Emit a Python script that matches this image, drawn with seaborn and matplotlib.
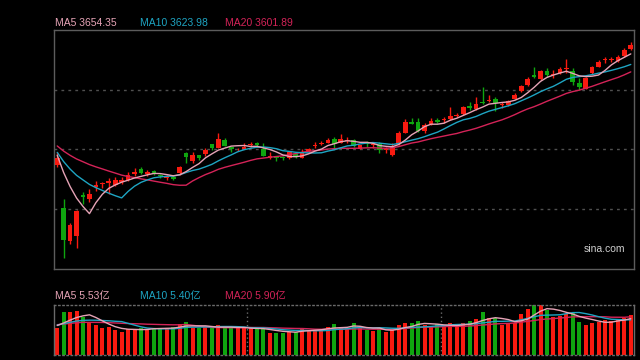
import numpy as np
import pandas as pd
import matplotlib
matplotlib.use("Agg")
import matplotlib.pyplot as plt
import seaborn as sns

sns.set_theme(style="dark", rc={"axes.facecolor": "#000000", "figure.facecolor": "#000000",
                                "axes.edgecolor": "#5c5c5c", "axes.grid": False})
plt.rcParams["font.family"] = ["Liberation Sans", "Noto Sans CJK SC", "DejaVu Sans"]

# closes of the 19 days before the first visible candle (seed the moving averages)
prev_close = [3405, 3392, 3398, 3390, 3401, 3396, 3388, 3399, 3394, 3397,
              3372, 3363, 3368, 3360, 3367, 3355, 3348, 3353, 3349]

opens = [3318, 3189, 3090, 3105, 3228, 3216, 3252, 3261, 3264, 3258,
         3267, 3273, 3291, 3306, 3291, 3300, 3288, 3279, 3282, 3294,
         3354, 3330, 3348, 3351, 3384, 3372, 3396, 3375, 3366, 3369,
         3381, 3387, 3369, 3339, 3345, 3342, 3339, 3351, 3339, 3360,
         3378, 3384, 3387, 3399, 3387, 3393, 3396, 3369, 3387, 3381,
         3384, 3363, 3348, 3384, 3417, 3450, 3450, 3423, 3444, 3456,
         3456, 3459, 3468, 3474, 3498, 3489, 3510, 3513, 3519, 3501,
         3501, 3519, 3543, 3561, 3591, 3579, 3603, 3591, 3597, 3609,
         3603, 3567, 3549, 3597, 3615, 3636, 3636, 3633, 3648, 3669]
closes = [3339, 3093, 3138, 3180, 3222, 3231, 3258, 3264, 3270, 3273,
          3273, 3288, 3297, 3294, 3297, 3294, 3285, 3282, 3276, 3312,
          3342, 3348, 3339, 3363, 3372, 3399, 3378, 3369, 3369, 3375,
          3384, 3381, 3345, 3345, 3339, 3339, 3357, 3342, 3357, 3369,
          3381, 3387, 3396, 3384, 3399, 3396, 3378, 3381, 3384, 3384,
          3363, 3366, 3375, 3417, 3450, 3444, 3423, 3441, 3453, 3450,
          3459, 3468, 3471, 3495, 3492, 3504, 3507, 3516, 3507, 3504,
          3513, 3531, 3558, 3579, 3585, 3603, 3591, 3594, 3609, 3612,
          3570, 3555, 3582, 3615, 3630, 3639, 3639, 3645, 3666, 3681]
highs = [3357, 3216, 3144, 3183, 3237, 3246, 3270, 3267, 3279, 3282,
         3282, 3297, 3309, 3312, 3303, 3303, 3291, 3288, 3285, 3315,
         3357, 3357, 3348, 3372, 3384, 3417, 3402, 3375, 3372, 3387,
         3390, 3390, 3387, 3357, 3345, 3345, 3360, 3357, 3366, 3372,
         3390, 3393, 3402, 3405, 3414, 3405, 3399, 3381, 3393, 3387,
         3390, 3375, 3387, 3423, 3459, 3462, 3462, 3447, 3462, 3462,
         3465, 3495, 3477, 3498, 3510, 3525, 3555, 3531, 3525, 3510,
         3516, 3537, 3561, 3585, 3615, 3606, 3612, 3606, 3615, 3639,
         3612, 3582, 3585, 3618, 3636, 3645, 3645, 3651, 3672, 3690]
lows = [3312, 3039, 3081, 3069, 3201, 3207, 3240, 3249, 3231, 3255,
        3261, 3270, 3285, 3291, 3285, 3288, 3279, 3273, 3273, 3288,
        3324, 3324, 3333, 3345, 3363, 3372, 3378, 3357, 3360, 3369,
        3375, 3375, 3345, 3336, 3330, 3333, 3336, 3339, 3339, 3357,
        3372, 3381, 3387, 3366, 3387, 3387, 3375, 3366, 3375, 3372,
        3354, 3354, 3345, 3381, 3417, 3444, 3420, 3417, 3441, 3447,
        3447, 3456, 3465, 3471, 3486, 3486, 3504, 3510, 3483, 3492,
        3498, 3519, 3540, 3558, 3582, 3576, 3585, 3582, 3594, 3597,
        3561, 3546, 3549, 3594, 3615, 3627, 3630, 3630, 3645, 3666]

# volume, 亿
prev_vol = [4.9, 4.5, 4.8, 4.6, 5.0, 4.7, 4.4, 4.8, 4.9, 4.6,
            4.7, 4.5, 4.8, 4.9, 4.6, 4.7, 4.5, 4.8, 4.6]
volume = [4.1, 6.67, 6.67, 6.8, 5.9, 4.9, 4.6, 4.1, 4.35, 3.85,
          3.6, 3.95, 3.95, 4.2, 3.95, 4.2, 4.1, 4.1, 4.35, 4.7,
          5.1, 4.2, 4.1, 4.35, 4.2, 4.6, 4.2, 4.1, 4.1, 4.2,
          4.1, 3.95, 3.95, 3.45, 3.45, 3.45, 3.6, 3.6, 4.2, 3.85,
          3.85, 3.95, 4.35, 4.8, 4.1, 4.1, 5.0, 4.1, 3.85, 3.7,
          4.1, 3.6, 3.85, 4.6, 5.0, 4.9, 5.2, 4.6, 4.35, 4.7,
          4.35, 4.9, 4.35, 4.9, 5.2, 5.55, 6.57, 5.65, 5.75, 4.6,
          4.7, 5.0, 6.27, 7.08, 7.7, 7.7, 6.93, 5.9, 6.06, 6.27,
          6.4, 5.1, 4.6, 4.98, 5.1, 5.4, 5.2, 5.55, 5.65, 6.16]

month_breaks = [29.5, 59.5]

RED = "#f81a10"
GREEN = "#0fa50f"
C_MA5 = "#e6a3b6"
C_MA10 = "#1ea5c3"
C_MA20 = "#d42358"

n = len(closes)
idx = np.arange(n)
df = pd.DataFrame({"open": opens, "close": closes, "high": highs, "low": lows, "vol": volume})
df["up"] = df["close"] >= df["open"]

all_close = pd.Series(prev_close + closes)
all_vol = pd.Series(prev_vol + volume)
k = len(prev_close)
ma = {w: all_close.rolling(w).mean().to_numpy()[k:] for w in (5, 10, 20)}
vma = {w: all_vol.rolling(w, min_periods=1).mean().to_numpy()[k:] for w in (5, 10, 20)}

fig = plt.figure(figsize=(6.4, 3.6), dpi=100)
ax = fig.add_axes([54 / 640, 91 / 360, 580 / 640, 239 / 360])
axv = fig.add_axes([54 / 640, 5 / 360, 580 / 640, 50 / 360])

# candles
colors = np.where(df["up"], RED, GREEN)
ax.vlines(idx, df["low"], df["high"], colors=colors, linewidth=1, zorder=2)
body_lo = np.minimum(df["open"], df["close"])
body_h = np.maximum(np.abs(df["close"] - df["open"]), 2)
ax.bar(idx, body_h, bottom=body_lo, width=0.74, color=colors, linewidth=0, zorder=3)

sns.lineplot(x=idx, y=ma[20], ax=ax, color=C_MA20, linewidth=1, zorder=4)
sns.lineplot(x=idx, y=ma[10], ax=ax, color=C_MA10, linewidth=1, zorder=4)
sns.lineplot(x=idx, y=ma[5], ax=ax, color=C_MA5, linewidth=1, zorder=4)

ax.set_xlim(-0.5, n - 0.5)
ax.set_ylim(3006, 3726)
for g in (3186, 3366, 3546):
    ax.axhline(g, color="#505050", linewidth=1, linestyle=(0, (2, 3)), zorder=1)
ax.set_xticks([])
ax.set_yticks([])
ax.set_xlabel("")
ax.set_ylabel("")
for s in ax.spines.values():
    s.set_color("#5c5c5c")
    s.set_linewidth(1)
ax.text(0.985, 0.085, "sina.com", transform=ax.transAxes, ha="right", va="center",
        color="#cfcfcf", fontsize=7.5)

# volume
vdf = pd.DataFrame({"i": idx, "vol": volume, "dir": np.where(df["up"], "up", "down")})
sns.barplot(data=vdf, x="i", y="vol", hue="dir", palette={"up": RED, "down": GREEN},
            dodge=False, width=0.62, saturation=1, legend=False, ax=axv, linewidth=0, zorder=2)
sns.lineplot(x=idx, y=vma[20], ax=axv, color=C_MA20, linewidth=1, zorder=4)
sns.lineplot(x=idx, y=vma[10], ax=axv, color=C_MA10, linewidth=1, zorder=4)
sns.lineplot(x=idx, y=vma[5], ax=axv, color=C_MA5, linewidth=1, zorder=4)
for b in month_breaks:
    axv.axvline(b, color="#6a6a6a", linewidth=1, linestyle=(0, (1, 2)), zorder=1)
axv.set_xlim(-0.5, n - 0.5)
axv.set_ylim(0, max(volume))
axv.set_xticks([])
axv.set_yticks([])
axv.set_xlabel("")
axv.set_ylabel("")
for name, s in axv.spines.items():
    s.set_color("#6a6a6a")
    s.set_linewidth(1)
    if name in ("top", "bottom"):
        s.set_linestyle((0, (1, 2)))

# header labels
fs = 7.5
fig.text(55 / 640, 1 - 23 / 360, "MA5 3654.35", color=C_MA5, fontsize=fs, va="center")
fig.text(140 / 640, 1 - 23 / 360, "MA10 3623.98", color=C_MA10, fontsize=fs, va="center")
fig.text(225 / 640, 1 - 23 / 360, "MA20 3601.89", color=C_MA20, fontsize=fs, va="center")
fig.text(55 / 640, 1 - 296 / 360, "MA5 5.53亿", color=C_MA5, fontsize=fs, va="center")
fig.text(140 / 640, 1 - 296 / 360, "MA10 5.40亿", color=C_MA10, fontsize=fs, va="center")
fig.text(225 / 640, 1 - 296 / 360, "MA20 5.90亿", color=C_MA20, fontsize=fs, va="center")

fig.savefig("out.png", dpi=100, facecolor="#000000")
